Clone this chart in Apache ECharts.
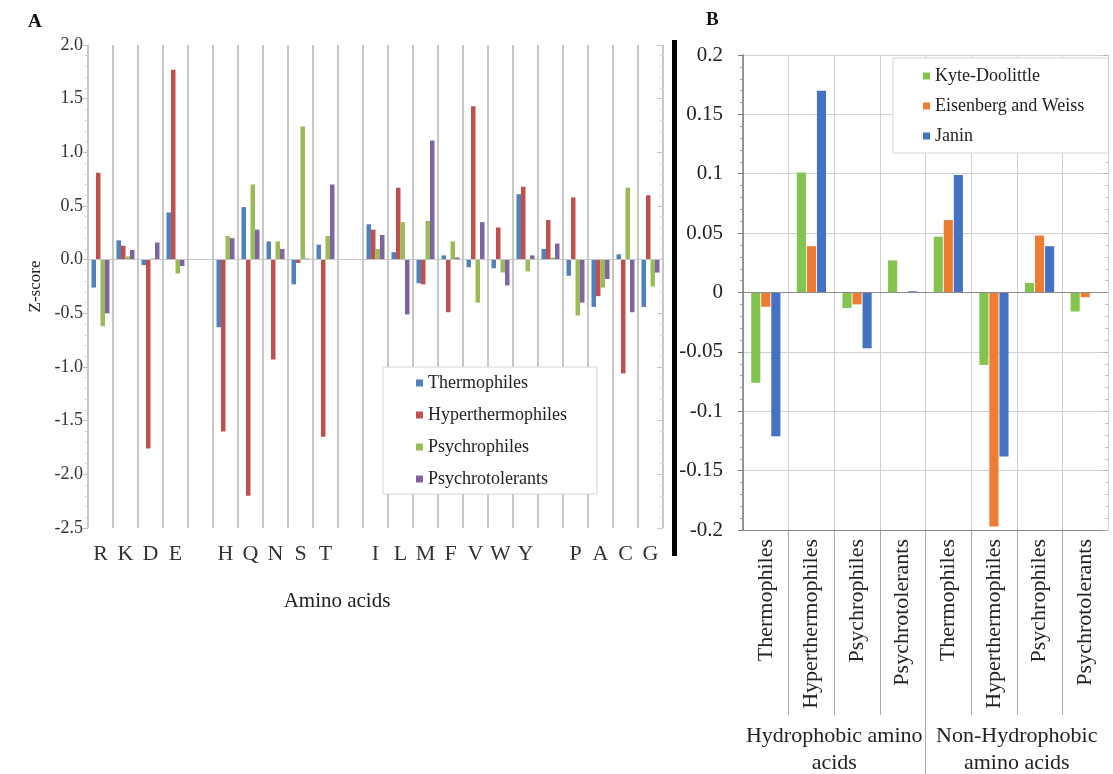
<!DOCTYPE html>
<html>
<head>
<meta charset="utf-8">
<script src="https://cdn.jsdelivr.net/npm/echarts@6/dist/echarts.min.js"></script>
<style>
  html, body { margin: 0; padding: 0; background: #fff; }
  #chart { width: 1113px; height: 774px; }
</style>
</head>
<body>
<div id="chart"></div>
<script>
// Panel A - amino acid z-scores (blank slots separate the groups)
var aminoAcids = ['R', 'K', 'D', 'E', ' ', 'H', 'Q', 'N', 'S', 'T', '  ', 'I', 'L', 'M', 'F', 'V', 'W', 'Y', '   ', 'P', 'A', 'C', 'G'];
var thermophiles = [-0.26, 0.18, -0.05, 0.44, null, -0.63, 0.49, 0.17, -0.23, 0.14, null, 0.33, 0.07, -0.22, 0.04, -0.07, -0.08, 0.61, 0.10, -0.15, -0.44, 0.05, -0.44];
var hyperthermophiles = [0.81, 0.13, -1.76, 1.77, null, -1.60, -2.20, -0.93, -0.03, -1.65, null, 0.28, 0.67, -0.23, -0.49, 1.43, 0.30, 0.68, 0.37, 0.58, -0.34, -1.06, 0.60];
var psychrophiles = [-0.62, 0.03, 0.01, -0.13, null, 0.22, 0.70, 0.17, 1.24, 0.22, null, 0.10, 0.35, 0.36, 0.17, -0.40, -0.12, -0.11, 0.02, -0.52, -0.26, 0.67, -0.25];
var psychrotolerants = [-0.50, 0.09, 0.16, -0.06, null, 0.20, 0.28, 0.10, 0.01, 0.70, null, 0.23, -0.51, 1.11, 0.02, 0.35, -0.24, 0.04, 0.15, -0.40, -0.18, -0.49, -0.12];
var zTicks = { min: -2.5, max: 2.0, interval: 0.5 };

// Panel B - hydrophobicity scales
var organisms = ['Thermophiles', 'Hyperthermophiles', 'Psychrophiles', 'Psychrotolerants', 'Thermophiles', 'Hyperthermophiles', 'Psychrophiles', 'Psychrotolerants'];
var aaGroups = ['Hydrophobic amino\nacids', 'Non-Hydrophobic\namino acids'];
var kyteDoolittle = [-0.076, 0.101, -0.013, 0.027, 0.047, -0.061, 0.008, -0.016];
var eisenbergWeiss = [-0.012, 0.039, -0.010, 0.000, 0.061, -0.197, 0.048, -0.004];
var janin = [-0.121, 0.170, -0.047, 0.001, 0.099, -0.138, 0.039, 0.000];
var scaleTicks = { min: -0.2, max: 0.2, interval: 0.05 };

var serif = 'Liberation Serif';
var colorsA = ['#4F81BD', '#C0504D', '#9BBB59', '#8064A2'];
var colorsB = ['#82C44E', '#EE7D31', '#4472C4'];

function zeroLine(color, width) {
    return {
        silent: true,
        symbol: 'none',
        label: { show: false },
        lineStyle: { color: color, type: 'solid', width: width },
        data: [{ yAxis: 0 }]
    };
}

function barA(name, data, idx) {
    var s = {
        name: name,
        type: 'bar',
        xAxisIndex: 0,
        yAxisIndex: 0,
        data: data,
        barGap: '0%',
        barCategoryGap: '28%',
        itemStyle: { color: colorsA[idx] }
    };
    if (idx === 0) s.markLine = zeroLine('#c4c4c4', 1);
    return s;
}

function barB(name, data, idx) {
    var s = {
        name: name,
        type: 'bar',
        xAxisIndex: 1,
        yAxisIndex: 2,
        data: data,
        barGap: '10%',
        barCategoryGap: '36%',
        itemStyle: { color: colorsB[idx] }
    };
    if (idx === 0) s.markLine = zeroLine('#8a8a8a', 1.2);
    return s;
}

// hidden axes of the two divider grids under panel B
function dividerX(grid, cats) {
    return {
        type: 'category',
        gridIndex: grid,
        data: cats,
        axisLine: { show: false },
        axisTick: { show: false },
        axisLabel: { show: false },
        splitLine: { show: true, interval: 0, showMinLine: false, showMaxLine: false, lineStyle: { color: '#a8a8a8' } }
    };
}
function dividerY(grid) {
    return { type: 'value', gridIndex: grid, show: false, splitLine: { show: false } };
}

var chart = echarts.init(document.getElementById('chart'));

chart.setOption({
    animation: false,
    backgroundColor: '#fff',
    textStyle: { fontFamily: serif },
    title: [
        { text: 'A', left: 23, top: 8, textStyle: { fontFamily: serif, fontSize: 19, fontWeight: 'bold', color: '#111' } },
        { text: 'B', left: 701, top: 6, textStyle: { fontFamily: serif, fontSize: 19, fontWeight: 'bold', color: '#111' } }
    ],
    legend: [
        {
            data: ['Thermophiles', 'Hyperthermophiles', 'Psychrophiles', 'Psychrotolerants'],
            orient: 'vertical',
            left: 383,
            top: 367,
            padding: [7, 30, 6, 33],
            itemGap: 14,
            itemWidth: 7,
            itemHeight: 7,
            icon: 'rect',
            backgroundColor: '#fff',
            borderColor: '#d6d6d6',
            borderWidth: 1,
            textStyle: { fontFamily: serif, fontSize: 18, lineHeight: 18, color: '#222' }
        },
        {
            data: ['Kyte-Doolittle', 'Eisenberg and Weiss', 'Janin'],
            orient: 'vertical',
            left: 893,
            top: 58,
            padding: [9, 24, 8, 30],
            itemGap: 12,
            itemWidth: 7,
            itemHeight: 7,
            icon: 'rect',
            backgroundColor: '#fff',
            borderColor: '#d6d6d6',
            borderWidth: 1,
            textStyle: { fontFamily: serif, fontSize: 18, lineHeight: 18, color: '#222' }
        }
    ],
    grid: [
        { left: 88, right: 450, top: 45, bottom: 246, outerBoundsMode: 'none' },
        { left: 743, right: 5, top: 55, bottom: 244, outerBoundsMode: 'none' },
        { left: 743, right: 5, top: 530, bottom: 59, outerBoundsMode: 'none' },
        { left: 743, right: 5, top: 530, bottom: 0, outerBoundsMode: 'none' }
    ],
    xAxis: [
        {
            type: 'category',
            gridIndex: 0,
            data: aminoAcids,
            position: 'bottom',
            name: 'Amino acids',
            nameLocation: 'middle',
            nameGap: 63,
            nameTextStyle: { fontFamily: serif, fontSize: 21, color: '#222', padding: [0, 77, 0, 0] },
            axisLine: { show: false },
            axisTick: { show: false },
            axisLabel: { interval: 0, margin: 15, fontFamily: serif, fontSize: 22, color: '#333' },
            splitLine: { show: true, interval: 0, lineStyle: { color: '#b5b5b5', width: 1.5 } }
        },
        {
            type: 'category',
            gridIndex: 1,
            data: organisms,
            position: 'bottom',
            axisLine: { onZero: false, lineStyle: { color: '#8a8a8a', width: 1.2 } },
            axisTick: { show: false },
            axisLabel: { interval: 0, rotate: 90, margin: 9, fontFamily: serif, fontSize: 22, color: '#222' },
            splitLine: { show: true, interval: 0, lineStyle: { color: '#d0d0d0' } }
        },
        {
            type: 'category',
            gridIndex: 1,
            data: aaGroups,
            position: 'bottom',
            axisLine: { show: false },
            axisTick: { show: false },
            axisLabel: { interval: 0, margin: 193, fontFamily: serif, fontSize: 22, lineHeight: 27, color: '#222' }
        },
        dividerX(2, organisms),
        dividerX(3, aaGroups)
    ],
    yAxis: [
        {
            type: 'value',
            gridIndex: 0,
            min: zTicks.min,
            max: zTicks.max,
            interval: zTicks.interval,
            name: 'Z-score',
            nameLocation: 'middle',
            nameGap: 42,
            nameTextStyle: { fontFamily: serif, fontSize: 17, color: '#222' },
            axisLine: { show: true, lineStyle: { color: '#c8c8c8' } },
            axisTick: { show: true, length: 5, lineStyle: { color: '#bdbdbd' } },
            minorTick: { show: true, splitNumber: 5, length: 3, lineStyle: { color: '#cfcfcf' } },
            axisLabel: {
                margin: 5,
                fontFamily: serif,
                fontSize: 18,
                color: '#333',
                formatter: function (v) { return v.toFixed(1); }
            },
            splitLine: { show: false }
        },
        {
            type: 'value',
            gridIndex: 0,
            position: 'right',
            min: zTicks.min,
            max: zTicks.max,
            interval: zTicks.interval,
            axisLine: { show: false },
            axisTick: { show: true, inside: true, length: 6, lineStyle: { color: '#c8c8c8' } },
            minorTick: { show: true, splitNumber: 5, length: 3, lineStyle: { color: '#d6d6d6' } },
            axisLabel: { show: false },
            splitLine: { show: false }
        },
        {
            type: 'value',
            gridIndex: 1,
            min: scaleTicks.min,
            max: scaleTicks.max,
            interval: scaleTicks.interval,
            axisLine: { show: true, lineStyle: { color: '#7a7a7a', width: 1.5 } },
            axisTick: { show: true, length: 5, lineStyle: { color: '#7a7a7a' } },
            minorTick: { show: true, splitNumber: 5, length: 3, lineStyle: { color: '#9a9a9a' } },
            axisLabel: { margin: 20, fontFamily: serif, fontSize: 21, color: '#222' },
            splitLine: { show: true, lineStyle: { color: '#d0d0d0' } }
        },
        {
            type: 'value',
            gridIndex: 1,
            position: 'right',
            min: scaleTicks.min,
            max: scaleTicks.max,
            interval: scaleTicks.interval,
            axisLine: { show: true, lineStyle: { color: '#d0d0d0' } },
            axisTick: { show: true, inside: true, length: 5, lineStyle: { color: '#b0b0b0' } },
            minorTick: { show: true, splitNumber: 5, length: 3, lineStyle: { color: '#c0c0c0' } },
            axisLabel: { show: false },
            splitLine: { show: false }
        },
        dividerY(2),
        dividerY(3)
    ],
    graphic: [
        // black frame edge on the left of panel B
        { type: 'rect', shape: { x: 672, y: 40, width: 5, height: 516 }, style: { fill: '#000' } }
    ],
    series: [
        barA('Thermophiles', thermophiles, 0),
        barA('Hyperthermophiles', hyperthermophiles, 1),
        barA('Psychrophiles', psychrophiles, 2),
        barA('Psychrotolerants', psychrotolerants, 3),
        barB('Kyte-Doolittle', kyteDoolittle, 0),
        barB('Eisenberg and Weiss', eisenbergWeiss, 1),
        barB('Janin', janin, 2)
    ]
});
</script>
</body>
</html>
